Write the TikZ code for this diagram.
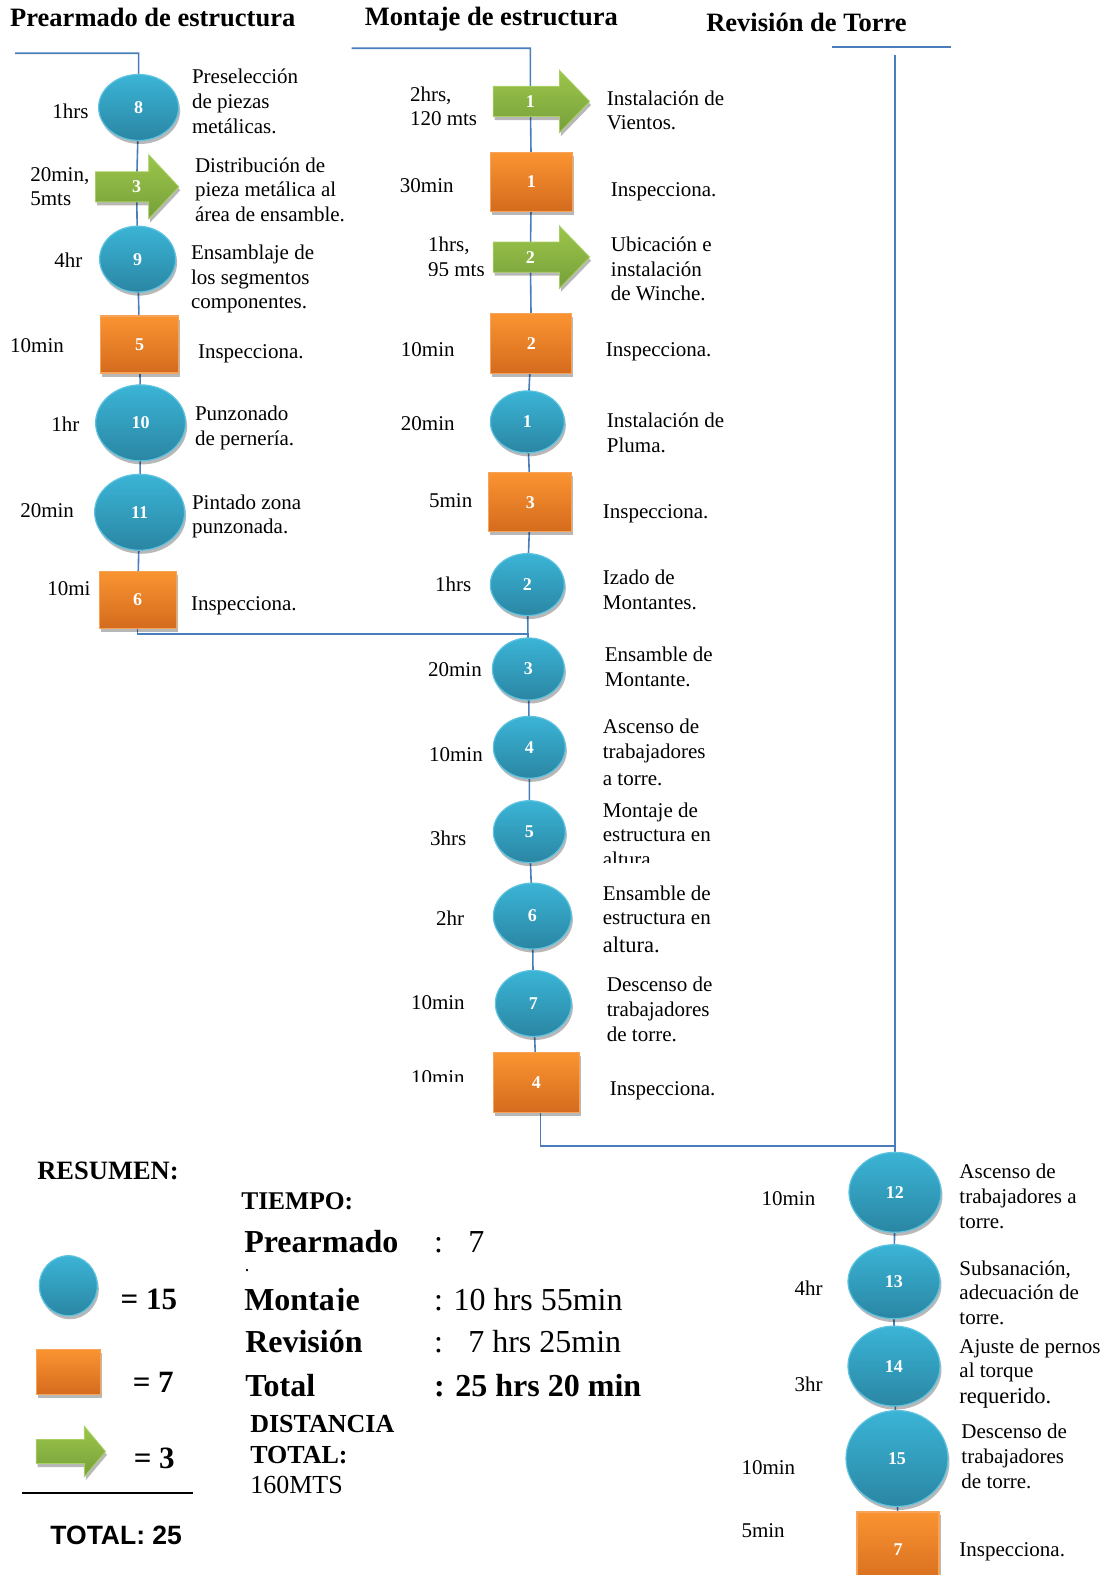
\documentclass[tikz,border=0pt]{standalone}
\usepackage{fontspec}
\setmainfont{Liberation Serif}
\newfontfamily\sansfam{Liberation Sans}
\usetikzlibrary{shapes.geometric,shadows}
\pgfdeclarelayer{bg}
\pgfsetlayers{bg,main}
\definecolor{cirTop}{HTML}{3BB4D6}
\definecolor{cirBot}{HTML}{2A86A3}
\definecolor{cirEdge}{HTML}{5EC3E0}
\definecolor{boxTop}{HTML}{FA9431}
\definecolor{boxBot}{HTML}{D46B1E}
\definecolor{boxEdge}{HTML}{F6A45A}
\definecolor{arrTop}{HTML}{9CC54B}
\definecolor{arrBot}{HTML}{76A03A}
\definecolor{arrEdge}{HTML}{A9CF64}
\definecolor{flowc}{HTML}{4A7EBB}
\newcommand\bodyf{\fontsize{21}{24.6}\selectfont}
\newcommand\numf{\fontsize{18}{20}\selectfont\bfseries}
\newcommand\ttlf{\fontsize{26.5}{30}\selectfont\bfseries}
\newcommand\bigf{\fontsize{32}{36}\selectfont}
\tikzset{
  shad/.style={drop shadow={shadow xshift=1.5pt,shadow yshift=-3.5pt,opacity=0.28,fill=black}},
  opc/.style={ellipse,inner sep=0,top color=cirTop,bottom color=cirBot,draw=cirEdge,line width=1.2pt,text=white,font=\numf,shad},
  insp/.style={rectangle,inner sep=0,top color=boxTop,bottom color=boxBot,draw=boxEdge,line width=1.2pt,text=white,font=\numf,shad},
  trn/.style={top color=arrTop,bottom color=arrBot,draw=arrEdge,line width=0.8pt,shad},
  numlab/.style={inner sep=0,text=white,font=\numf},
  flow/.style={draw=flowc,line width=1.6pt},
  txt/.style={anchor=west,inner sep=0,align=left,font=\bodyf,yshift=-3.5pt,execute at begin node=\strut,execute at end node=\strut},
}
% name, label, label x, left x, head start x, tip x, center y, body half, head half
\newcommand\garrow[9]{%
  \path[trn] (#4,#7-#8) -- (#5,#7-#8) -- (#5,#7-#9) -- (#6,#7) -- (#5,#7+#9) -- (#5,#7+#8) -- (#4,#7+#8) -- cycle;
  \node[numlab] (#1) at (#3,#7) {#2};}
\begin{document}
\begin{tikzpicture}[x=1.0045pt,y=-1.0045pt]
\useasboundingbox (0,0) rectangle (1105,1568);
\clip (0,0) rectangle (1105,1568);

% ---------- titles ----------
\node[txt,font=\ttlf] (t1) at (10,17) {Prearmado de estructura};
\node[txt,font=\ttlf] (t2) at (363,16) {Montaje de estructura};
\node[txt,font=\ttlf] (t3) at (703,22) {Revisión de Torre};

% ---------- Prearmado column ----------
\node[opc,minimum width=80,minimum height=66] (c8) at (138,107) {8};
\garrow{pa3}{3}{136}{95}{148}{178}{186}{15}{32}
\node[opc,minimum width=76,minimum height=66] (c9) at (137,258) {9};
\node[insp,minimum width=78,minimum height=57] (b5) at (139,343) {5};
\node[opc,minimum width=90,minimum height=76] (c10) at (140,421) {10};
\node[opc,minimum width=90,minimum height=76] (c11) at (139,510) {11};
\node[insp,minimum width=77,minimum height=57] (b6) at (137,597) {6};

\node[txt] (l8) at (52,110) {1hrs};
\node[txt] (la3) at (30,186) {20min,\\5mts};
\node[txt] (l9) at (54,258) {4hr};
\node[txt] (l5) at (10,343) {10min};
\node[txt] (l10) at (51,421) {1hr};
\node[txt] (l11) at (20,507) {20min};
\node[txt] (l6) at (47,584) {10mi};

\node[txt] (d8) at (191,101) {Preselección\\de piezas\\metálicas.};
\node[txt] (da3) at (194,189) {Distribución de\\pieza metálica al\\área de ensamble.};
\node[txt] (d9) at (190,276) {Ensamblaje de\\los segmentos\\componentes.};
\node[txt] (d5) at (197,349) {Inspecciona.};
\node[txt] (d10) at (194,424) {Punzonado\\de pernería.};
\node[txt] (d11) at (191,512) {Pintado zona\\punzonada.};
\node[txt] (d6) at (190,599) {Inspecciona.};

% ---------- Montaje column ----------
\garrow{ma1}{1}{528}{491}{557}{587}{101}{15}{31}
\node[insp,minimum width=82,minimum height=59] (mb1) at (529,181) {1};
\garrow{ma2}{2}{528}{491}{557}{587}{256}{15}{31}
\node[insp,minimum width=81,minimum height=60] (mb2) at (529,342) {2};
\node[opc,minimum width=74,minimum height=62] (mc1) at (525,420) {1};
\node[insp,minimum width=83,minimum height=59] (mb3) at (528,500) {3};
\node[opc,minimum width=74,minimum height=62] (mc2) at (525,582) {2};
\node[opc,minimum width=72,minimum height=62] (mc3) at (526,666) {3};
\node[opc,minimum width=72,minimum height=62] (mc4) at (527,744) {4};
\node[opc,minimum width=72,minimum height=62] (mc5) at (527,828) {5};
\node[opc,minimum width=78,minimum height=66] (mc6) at (530,912) {6};
\node[opc,minimum width=76,minimum height=66] (mc7) at (531,999) {7};
\node[insp,minimum width=86,minimum height=60] (mb4) at (534,1078) {4};

\node[txt] (lma1) at (408,106) {2hrs,\\120 mts};
\node[txt] (lmb1) at (398,183) {30min};
\begin{scope}
  \clip (400,228) rectangle (490,274);
  \node[txt] (lma2) at (426,256) {1hrs,\\95 mts};
\end{scope}
\node[txt] (lmb2) at (399,347) {10min};
\node[txt] (lmc1) at (399,420) {20min};
\node[txt] (lmb3) at (427,497) {5min};
\node[txt] (lmc2) at (433,580) {1hrs};
\node[txt] (lmc3) at (426,665) {20min};
\node[txt] (lmc4) at (427,750) {10min};
\node[txt] (lmc5) at (428,833) {3hrs};
\node[txt] (lmc6) at (434,913) {2hr};
\node[txt] (lmc7) at (409,997) {10min};
\begin{scope}
  \clip (400,1055) rectangle (480,1077);
  \node[txt] (lmb4) at (409,1071) {10min};
\end{scope}

\node[txt] (dma1) at (604,110) {Instalación de\\Vientos.};
\node[txt] (dmb1) at (608,187) {Inspecciona.};
\node[txt] (dma2) at (608,268) {Ubicación e\\instalación\\de Winche.};
\node[txt] (dmb2) at (603,347) {Inspecciona.};
\node[txt] (dmc1) at (604,431) {Instalación de\\Pluma.};
\node[txt] (dmb3) at (600,508) {Inspecciona.};
\node[txt] (dmc2) at (600,587) {Izado de\\Montantes.};
\node[txt] (dmc3) at (602,664) {Ensamble de\\Montante.};
\node[txt] (dmc4) at (600,749) {Ascenso de\\trabajadores\\[2pt]a torre.};
\begin{scope}
  \clip (590,790) rectangle (740,859);
  \node[txt] (dmc5) at (600,831) {Montaje de\\estructura en\\altura};
\end{scope}
\node[txt] (dmc6) at (600,915) {Ensamble de\\estructura en\\[3pt]{\fontsize{22.5}{26}\selectfont altura.}};
\node[txt] (dmc7) at (604,1005) {Descenso de\\trabajadores\\de torre.};
\node[txt] (dmb4) at (607,1082) {Inspecciona.};

% ---------- Revision column ----------
\node[opc,minimum width=92,minimum height=80] (c12) at (891,1187) {12};
\node[opc,minimum width=92,minimum height=74] (c13) at (890,1276) {13};
\node[opc,minimum width=92,minimum height=80] (c14) at (890,1360) {14};
\node[opc,minimum width=102,minimum height=96] (c15) at (893,1452) {15};
\node[insp,minimum width=82,minimum height=76] (b7) at (894,1543) {7};

\node[txt] (lc12) at (758,1192) {10min};
\node[txt] (lc13) at (791,1281) {4hr};
\node[txt] (lc14) at (791,1377) {3hr};
\node[txt] (lc15) at (738,1460) {10min};
\node[txt] (lb7) at (738,1522) {5min};

\node[txt] (dc12) at (955,1191) {Ascenso de\\trabajadores a\\torre.};
\node[txt] (dc13) at (955,1287) {Subsanación,\\adecuación de\\torre.};
\node[txt] (dc14) at (955,1365) {Ajuste de pernos\\al torque\\[1pt]{\fontsize{22.5}{26}\selectfont requerido.}};
\node[txt] (dc15) at (957,1450) {Descenso de\\trabajadores\\de torre.};
\node[txt] (db7) at (955,1541) {Inspecciona.};

% ---------- connectors ----------
\begin{pgfonlayer}{bg}
  \coordinate (p0) at (15,53);
  \draw[flow] (p0) -| (c8.center) -- (pa3.center) -- (c9.center) -- (b5.center) -- (c10.center) -- (c11.center) -- (b6.center);
  \coordinate (j1) at (527,631);
  \draw[flow] (b6.center) |- (j1);
  \coordinate (m0) at (350,48);
  \draw[flow] (m0) -| (ma1.center) -- (mb1.center) -- (ma2.center) -- (mb2.center) -- (mc1.center) -- (mb3.center) -- (mc2.center) -- (mc3.center) -- (mc4.center) -- (mc5.center) -- (mc6.center) -- (mc7.center) -- (mb4.center);
  \coordinate (m2) at (538,1141);
  \coordinate (r1) at (891,1141);
  \draw[flow] (mb4.center -| m2) -- (m2) -- (r1);
  \coordinate (rh0) at (828,47);
  \coordinate (rh1) at (947,47);
  \draw[flow] (rh0) -- (rh1);
  \coordinate (rt) at (891,55);
  \draw[flow] (rt) -- (r1) -- (c12.center) -- (c13.center) -- (c14.center) -- (c15.center) -- (b7.center);
\end{pgfonlayer}

% ---------- summary ----------
\node[txt,font=\fontsize{26.5}{30}\selectfont\bfseries] (res) at (37,1165) {RESUMEN:};
\node[opc,minimum width=58,minimum height=60] (lc) at (68,1280) {};
\node[insp,minimum width=64,minimum height=45] (lb) at (68,1366) {};
\garrow{la}{}{60}{36}{84}{105}{1445}{12}{25}
\node[txt,font=\fontsize{31}{34}\selectfont\bfseries] (n15) at (120,1293) {= 15};
\node[txt,font=\fontsize{31}{34}\selectfont\bfseries] (n7) at (132,1376) {= 7};
\node[txt,font=\fontsize{31}{34}\selectfont\bfseries] (n3) at (133,1452) {= 3};
\coordinate (s0) at (22,1486);
\coordinate (s1) at (192,1486);
\draw[black,line width=2pt] (s0) -- (s1);
\node[txt,font=\fontsize{26.5}{30}\selectfont\sansfam\bfseries] (tot) at (50,1528) {TOTAL: 25};

\node[txt,font=\fontsize{25.5}{28}\selectfont\bfseries] (tiempo) at (240,1195) {TIEMPO:};
\node[txt,font=\bigf\bfseries] (sp) at (243,1236) {Prearmado};
\node[txt,font=\bigf] (spc) at (432,1236) {:};
\node[txt,font=\bigf] (spv) at (466,1236) {7};
\node[txt,font=\fontsize{14}{16}\selectfont\bfseries] (dot) at (244,1259) {.};
\begin{scope}
  \clip (230,1270) rectangle (420,1304.5);
  \node[txt,font=\bigf\bfseries] (sm) at (243,1294) {Montaje};
\end{scope}
\node[txt,font=\bigf] (smv) at (432,1294) {: 10 hrs 55min};
\node[txt,font=\bigf\bfseries] (sr) at (244,1336) {Revisión};
\node[txt,font=\bigf] (src) at (432,1336) {:};
\node[txt,font=\bigf] (srv) at (466,1336) {7 hrs 25min};
\node[txt,font=\bigf\bfseries] (st) at (244,1380) {Total};
\node[txt,font=\bigf\bfseries] (stv) at (432,1380) {: 25 hrs 20 min};
\node[txt,font=\fontsize{26}{30.5}\selectfont\bfseries] (dist) at (249,1449) {DISTANCIA\\TOTAL:\\{\mdseries 160MTS}};
\end{tikzpicture}
\end{document}
